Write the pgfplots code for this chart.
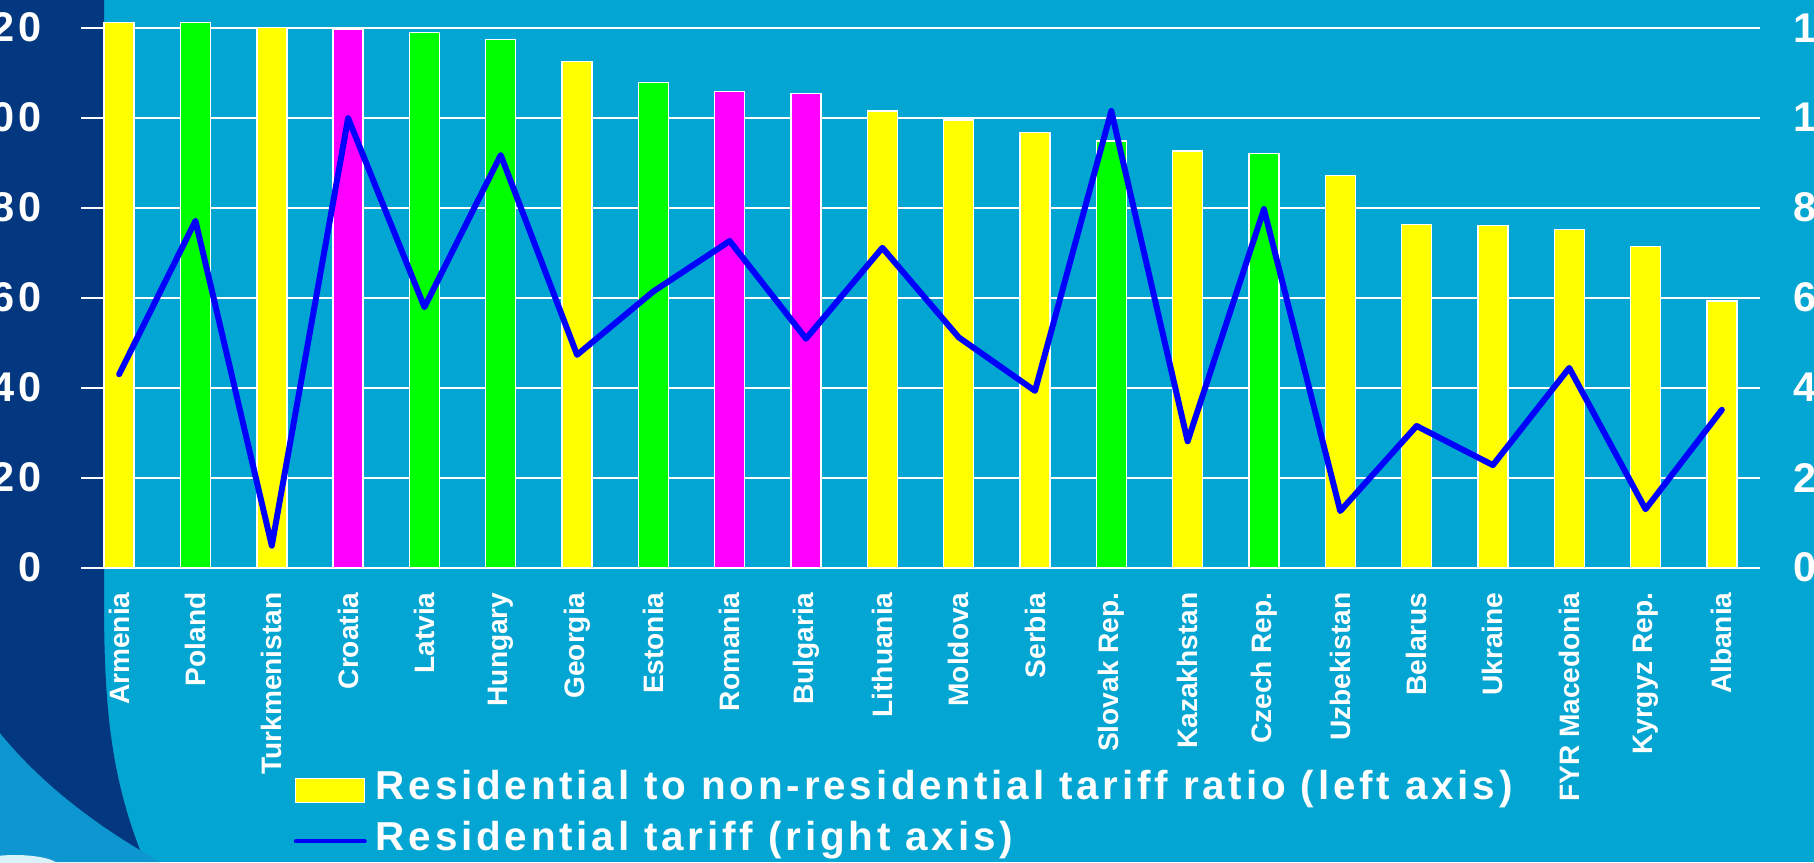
\documentclass[border=0pt]{standalone}
\usepackage{pgfplots}
\pgfplotsset{compat=1.18}
\usepackage{fontspec}
\setmainfont{Liberation Sans}
\newfontfamily\spaced[LetterSpace=10]{Liberation Sans}
\newfontfamily\spacedleg[LetterSpace=9.4]{Liberation Sans}
\definecolor{bgblue}{RGB}{3,165,210}
\definecolor{navy}{RGB}{3,55,128}
\definecolor{lowblue}{RGB}{14,150,209}
\definecolor{barY}{RGB}{255,255,0}
\definecolor{barG}{RGB}{0,255,0}
\definecolor{barM}{RGB}{255,0,255}
\definecolor{lineB}{RGB}{0,0,255}

\begin{document}
\begin{tikzpicture}
\path[use as bounding box] (0,0) rectangle (18.14,8.62);
\clip (0,0) rectangle (18.14,8.62);
\fill[bgblue] (0,0) rectangle (18.14,8.62);
\fill[lowblue] (0,0) -- (0,1.29) .. controls (0.4,0.8) and (0.9,0.42) .. (1.40,0.12) -- (1.6,0) -- cycle;
\fill[navy] (0,8.62) -- (1.04,8.62) -- (1.04,2.62) .. controls (1.04,1.6) and (1.10,0.9) .. (1.40,0.12)
   .. controls (0.9,0.42) and (0.4,0.8) .. (0,1.29) -- cycle;
\fill[white!85!bgblue] (0.15,-0.05) ellipse (0.45 and 0.12);

\begin{axis}[
  scale only axis, width=16.79cm, height=5.67cm,
  at={(0.81cm,2.943cm)}, anchor=south west,
  xmin=-0.5, xmax=21.5, ymin=0, ymax=126,
  axis line style={draw=none}, major tick length=0pt,
  ytick={0,20,...,120},
  ymajorgrids, grid style={white, line width=0.45pt},
  xtick={0,...,21},
  xticklabels={Armenia,Poland,Turkmenistan,Croatia,Latvia,Hungary,Georgia,Estonia,Romania,Bulgaria,Lithuania,Moldova,Serbia,Slovak Rep.,Kazakhstan,Czech Rep.,Uzbekistan,Belarus,Ukraine,FYR Macedonia,Kyrgyz Rep.,Albania},
  x tick label style={rotate=90, anchor=east, inner sep=0pt, font=\fontsize{8}{9}\selectfont\bfseries, text=white},
  xticklabel shift=0.24cm,
  y tick label style={font=\fontsize{11.8}{13}\selectfont\spaced\bfseries, text=white, inner sep=0pt},
  yticklabel shift=0.385cm,
  /pgf/number format/assume math mode=true,
  ybar, bar width=0.30cm,
]
\addplot[ybar, bar shift=0pt, fill=barY, draw=white, line width=0.4pt] coordinates {
(0,121.2) (2,120.0) (6,112.5) (10,101.5) (11,99.5) (12,96.7) (14,92.6) (16,87.1) (17,76.3) (18,76.0) (19,75.2) (20,71.4) (21,59.3)};
\addplot[ybar, bar shift=0pt, fill=barG, draw=white, line width=0.4pt] coordinates {
(1,121.2) (4,118.9) (5,117.4) (7,107.8) (13,94.8) (15,92.1)};
\addplot[ybar, bar shift=0pt, fill=barM, draw=white, line width=0.4pt] coordinates {
(3,119.6) (8,105.8) (9,105.4)};
\end{axis}

\begin{axis}[
  scale only axis, width=16.79cm, height=5.67cm,
  at={(0.81cm,2.943cm)}, anchor=south west,
  xmin=-0.5, xmax=21.5, ymin=0, ymax=12.6,
  axis y line*=right, axis x line=none, axis line style={draw=none}, major tick length=0pt,
  ytick={0,2,...,12},
  y tick label style={font=\fontsize{11.8}{13}\selectfont\spaced\bfseries, text=white, inner sep=0pt, anchor=west},
  yticklabel shift=0.33cm,
  /pgf/number format/assume math mode=true,
  legend cell align=left,
  legend style={at={(0.1263,-0.3603)}, anchor=north west, draw=none, fill=none, inner sep=0pt,
     row sep=0.16cm, font=\fontsize{11.5}{13}\selectfont\spacedleg\bfseries, text=white,
     nodes={inner sep=0pt, text height=0.75em, text depth=0.25em}},
]
\addlegendimage{legend image code/.code={\fill[barY, draw=white, line width=0.4pt] (0cm,-0.12cm) rectangle (0.69cm,0.12cm); \path (0.77cm,0);}}
\addlegendentry{Residential to non-residential tariff ratio (left axis)}
\addplot[lineB, line width=1.7pt, line join=round, line cap=round,
  legend image code/.code={\draw[lineB, line width=1.15pt] (0cm,0cm) -- (0.69cm,0cm); \path (0.77cm,0);}]
  coordinates {
(0,4.30) (1,7.71) (2,0.49) (3,9.99) (4,5.79) (5,9.17) (6,4.73) (7,6.14) (8,7.26) (9,5.09) (10,7.11)
(11,5.12) (12,3.93) (13,10.15) (14,2.81) (15,7.97) (16,1.26) (17,3.15) (18,2.28) (19,4.44) (20,1.30) (21,3.51)};
\addlegendentry{Residential tariff (right axis)}
\end{axis}
\end{tikzpicture}
\end{document}
